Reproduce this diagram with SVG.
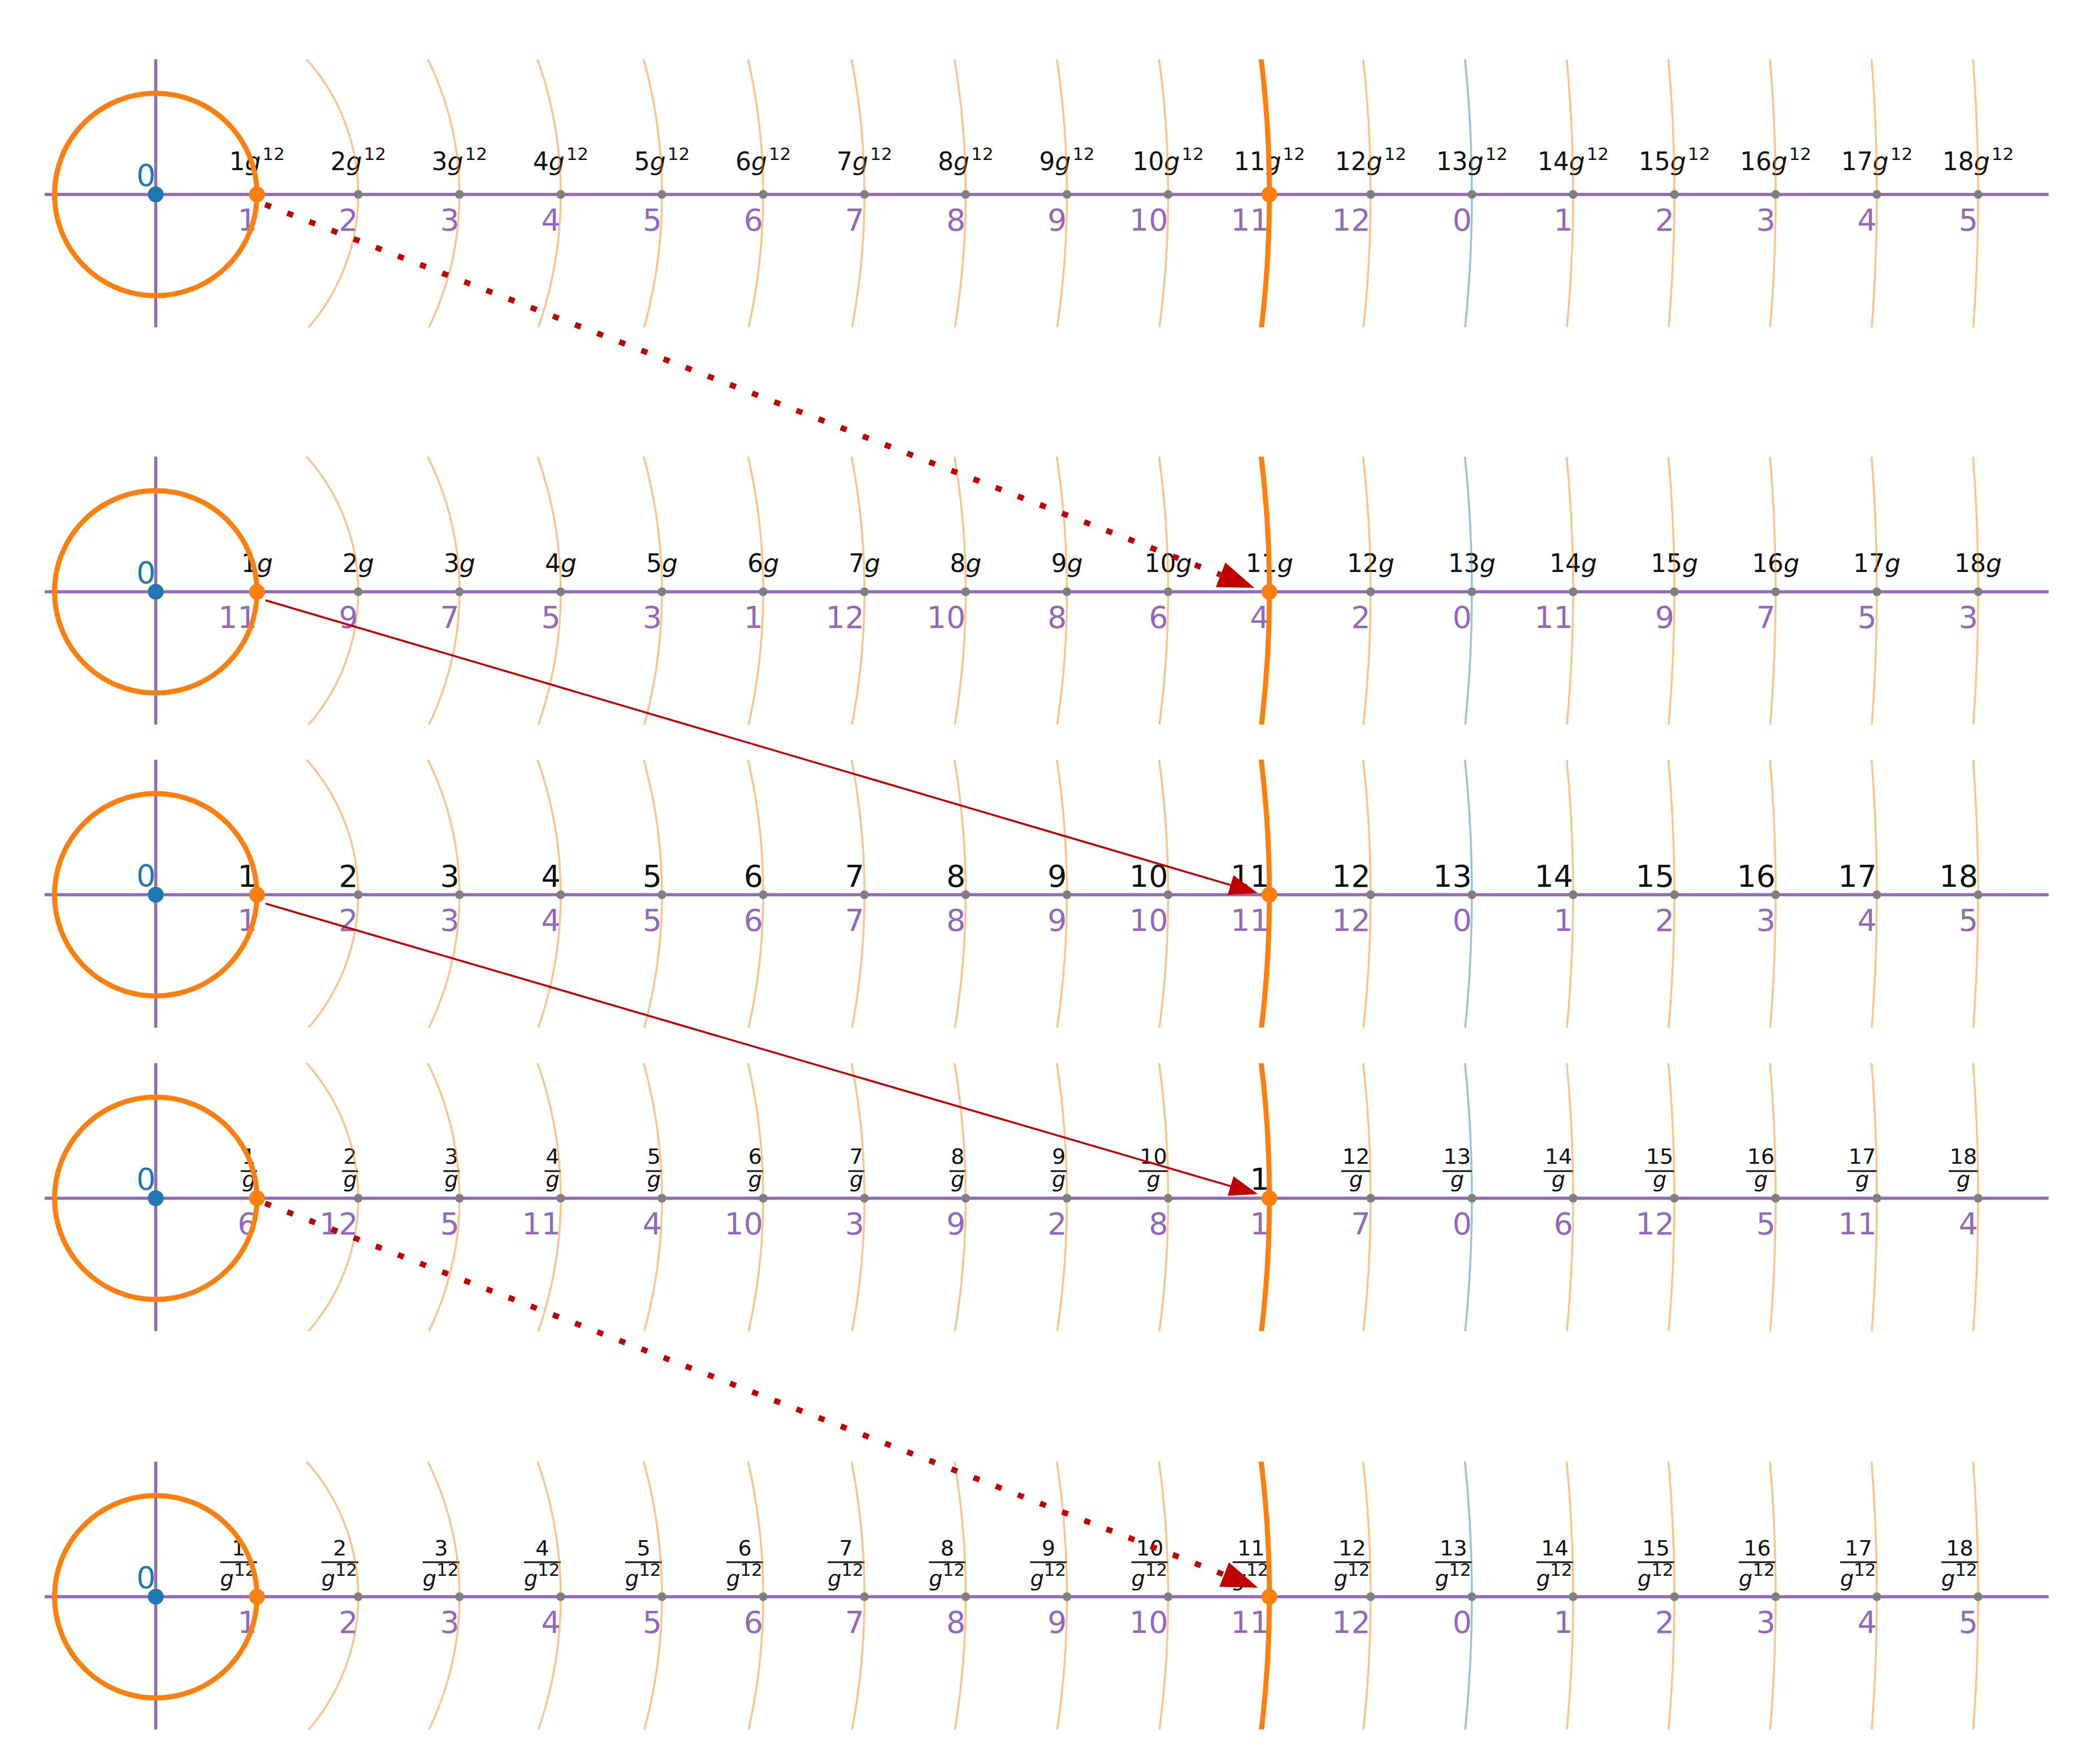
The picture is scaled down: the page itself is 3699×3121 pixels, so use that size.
<svg xmlns="http://www.w3.org/2000/svg" xmlns:xlink="http://www.w3.org/1999/xlink" width="3699" height="3121" viewBox="0 0 3699 3121">
<style>
text{font-family:"DejaVu Sans","Liberation Sans",sans-serif}
.ax{stroke:#9467bd;stroke-width:5.5;fill:none}
.th{fill:none;stroke:#ff7f0e;stroke-opacity:0.48;stroke-width:3.5}
.bc{fill:none;stroke:#1f77b4;stroke-opacity:0.45;stroke-width:3.5}
.tk{fill:none;stroke:#ff7f0e;stroke-width:9}
.gd{fill:#7f7f7f}
.od{fill:#ff7f0e}
.bd{fill:#1f77b4}
.pl{font-size:54px;fill:#9467bd;text-anchor:end}
.z{font-size:54px;fill:#1f77b4;text-anchor:end}
.bl{font-size:54px;fill:#111;text-anchor:end}
.mt{font-size:44px;fill:#111;text-anchor:middle}
.fr{font-size:38px;fill:#111;text-anchor:middle}
.dn{font-size:38px;fill:#111}
.it{font-style:italic}
.sup{font-size:31px}
.bar{fill:#111}
.dot{stroke:#c00000;stroke-width:10;stroke-dasharray:11 31;fill:none}
.sol{stroke:#c00000;stroke-width:3.5;fill:none}
.hd{fill:#c00000}
</style>
<defs>
<clipPath id="band"><rect x="-196.5" y="-239" width="3545" height="474"/></clipPath>
<g id="arcs">
<circle class="th" r="358.2"/><circle class="th" r="537.3"/><circle class="th" r="716.4"/><circle class="th" r="895.5"/><circle class="th" r="1074.6"/><circle class="th" r="1253.7"/><circle class="th" r="1432.8"/><circle class="th" r="1611.9"/><circle class="th" r="1791"/><circle class="th" r="2149.2"/><circle class="th" r="2507.4"/><circle class="th" r="2686.5"/><circle class="th" r="2865.6"/><circle class="th" r="3044.7"/><circle class="th" r="3223.8"/>
<circle class="bc" r="2328.3"/>
<circle class="tk" r="1970.1"/>
<circle class="tk" r="179.1"/>
</g>
<g id="axes">
<line class="ax" x1="-196.5" y1="0" x2="3348.5" y2="0"/>
<line class="ax" x1="0" y1="-239" x2="0" y2="235"/>
<text class="z" x="0" y="-15">0</text>
</g>
<g id="dots">
<circle class="bd" cx="0" cy="0" r="14"/>
<circle class="od" cx="179.1" cy="0" r="14"/>
<circle class="gd" cx="358.2" cy="0" r="7.7"/><circle class="gd" cx="537.3" cy="0" r="7.7"/><circle class="gd" cx="716.4" cy="0" r="7.7"/><circle class="gd" cx="895.5" cy="0" r="7.7"/><circle class="gd" cx="1074.6" cy="0" r="7.7"/><circle class="gd" cx="1253.7" cy="0" r="7.7"/><circle class="gd" cx="1432.8" cy="0" r="7.7"/><circle class="gd" cx="1611.9" cy="0" r="7.7"/><circle class="gd" cx="1791" cy="0" r="7.7"/>
<circle class="od" cx="1970.1" cy="0" r="14"/>
<circle class="gd" cx="2149.2" cy="0" r="7.7"/><circle class="gd" cx="2328.3" cy="0" r="7.7"/><circle class="gd" cx="2507.4" cy="0" r="7.7"/><circle class="gd" cx="2686.5" cy="0" r="7.7"/><circle class="gd" cx="2865.6" cy="0" r="7.7"/><circle class="gd" cx="3044.7" cy="0" r="7.7"/><circle class="gd" cx="3223.8" cy="0" r="7.7"/>
</g>
<g id="plA">
<text class="pl" x="179.1" y="64">1</text><text class="pl" x="358.2" y="64">2</text><text class="pl" x="537.3" y="64">3</text><text class="pl" x="716.4" y="64">4</text><text class="pl" x="895.5" y="64">5</text><text class="pl" x="1074.6" y="64">6</text><text class="pl" x="1253.7" y="64">7</text><text class="pl" x="1432.8" y="64">8</text><text class="pl" x="1611.9" y="64">9</text><text class="pl" x="1791" y="64">10</text><text class="pl" x="1970.1" y="64">11</text><text class="pl" x="2149.2" y="64">12</text><text class="pl" x="2328.3" y="64">0</text><text class="pl" x="2507.4" y="64">1</text><text class="pl" x="2686.5" y="64">2</text><text class="pl" x="2865.6" y="64">3</text><text class="pl" x="3044.7" y="64">4</text><text class="pl" x="3223.8" y="64">5</text>
</g>
</defs>

<g id="row1" transform="translate(275.5,344)">
<use href="#axes"/>
<use href="#plA"/>
<text class="mt" x="179.1" y="-43">1<tspan class="it">g</tspan><tspan class="sup" dx="3" dy="-18">12</tspan></text>
<text class="mt" x="358.2" y="-43">2<tspan class="it">g</tspan><tspan class="sup" dx="3" dy="-18">12</tspan></text>
<text class="mt" x="537.3" y="-43">3<tspan class="it">g</tspan><tspan class="sup" dx="3" dy="-18">12</tspan></text>
<text class="mt" x="716.4" y="-43">4<tspan class="it">g</tspan><tspan class="sup" dx="3" dy="-18">12</tspan></text>
<text class="mt" x="895.5" y="-43">5<tspan class="it">g</tspan><tspan class="sup" dx="3" dy="-18">12</tspan></text>
<text class="mt" x="1074.6" y="-43">6<tspan class="it">g</tspan><tspan class="sup" dx="3" dy="-18">12</tspan></text>
<text class="mt" x="1253.7" y="-43">7<tspan class="it">g</tspan><tspan class="sup" dx="3" dy="-18">12</tspan></text>
<text class="mt" x="1432.8" y="-43">8<tspan class="it">g</tspan><tspan class="sup" dx="3" dy="-18">12</tspan></text>
<text class="mt" x="1611.9" y="-43">9<tspan class="it">g</tspan><tspan class="sup" dx="3" dy="-18">12</tspan></text>
<text class="mt" x="1791" y="-43">10<tspan class="it">g</tspan><tspan class="sup" dx="3" dy="-18">12</tspan></text>
<text class="mt" x="1970.1" y="-43">11<tspan class="it">g</tspan><tspan class="sup" dx="3" dy="-18">12</tspan></text>
<text class="mt" x="2149.2" y="-43">12<tspan class="it">g</tspan><tspan class="sup" dx="3" dy="-18">12</tspan></text>
<text class="mt" x="2328.3" y="-43">13<tspan class="it">g</tspan><tspan class="sup" dx="3" dy="-18">12</tspan></text>
<text class="mt" x="2507.4" y="-43">14<tspan class="it">g</tspan><tspan class="sup" dx="3" dy="-18">12</tspan></text>
<text class="mt" x="2686.5" y="-43">15<tspan class="it">g</tspan><tspan class="sup" dx="3" dy="-18">12</tspan></text>
<text class="mt" x="2865.6" y="-43">16<tspan class="it">g</tspan><tspan class="sup" dx="3" dy="-18">12</tspan></text>
<text class="mt" x="3044.7" y="-43">17<tspan class="it">g</tspan><tspan class="sup" dx="3" dy="-18">12</tspan></text>
<text class="mt" x="3223.8" y="-43">18<tspan class="it">g</tspan><tspan class="sup" dx="3" dy="-18">12</tspan></text>
<g clip-path="url(#band)"><use href="#arcs"/></g>
<use href="#dots"/>
</g>

<g id="row2" transform="translate(275.5,1047)">
<use href="#axes"/>
<text class="pl" x="179.1" y="64">11</text><text class="pl" x="358.2" y="64">9</text><text class="pl" x="537.3" y="64">7</text><text class="pl" x="716.4" y="64">5</text><text class="pl" x="895.5" y="64">3</text><text class="pl" x="1074.6" y="64">1</text><text class="pl" x="1253.7" y="64">12</text><text class="pl" x="1432.8" y="64">10</text><text class="pl" x="1611.9" y="64">8</text><text class="pl" x="1791" y="64">6</text><text class="pl" x="1970.1" y="64">4</text><text class="pl" x="2149.2" y="64">2</text><text class="pl" x="2328.3" y="64">0</text><text class="pl" x="2507.4" y="64">11</text><text class="pl" x="2686.5" y="64">9</text><text class="pl" x="2865.6" y="64">7</text><text class="pl" x="3044.7" y="64">5</text><text class="pl" x="3223.8" y="64">3</text>
<text class="mt" x="179.1" y="-35">1<tspan class="it">g</tspan></text>
<text class="mt" x="358.2" y="-35">2<tspan class="it">g</tspan></text>
<text class="mt" x="537.3" y="-35">3<tspan class="it">g</tspan></text>
<text class="mt" x="716.4" y="-35">4<tspan class="it">g</tspan></text>
<text class="mt" x="895.5" y="-35">5<tspan class="it">g</tspan></text>
<text class="mt" x="1074.6" y="-35">6<tspan class="it">g</tspan></text>
<text class="mt" x="1253.7" y="-35">7<tspan class="it">g</tspan></text>
<text class="mt" x="1432.8" y="-35">8<tspan class="it">g</tspan></text>
<text class="mt" x="1611.9" y="-35">9<tspan class="it">g</tspan></text>
<text class="mt" x="1791" y="-35">10<tspan class="it">g</tspan></text>
<text class="mt" x="1970.1" y="-35">11<tspan class="it">g</tspan></text>
<text class="mt" x="2149.2" y="-35">12<tspan class="it">g</tspan></text>
<text class="mt" x="2328.3" y="-35">13<tspan class="it">g</tspan></text>
<text class="mt" x="2507.4" y="-35">14<tspan class="it">g</tspan></text>
<text class="mt" x="2686.5" y="-35">15<tspan class="it">g</tspan></text>
<text class="mt" x="2865.6" y="-35">16<tspan class="it">g</tspan></text>
<text class="mt" x="3044.7" y="-35">17<tspan class="it">g</tspan></text>
<text class="mt" x="3223.8" y="-35">18<tspan class="it">g</tspan></text>
<g clip-path="url(#band)"><use href="#arcs"/></g>
<use href="#dots"/>
</g>

<g id="row3" transform="translate(275.5,1583)">
<use href="#axes"/>
<use href="#plA"/>
<text class="bl" x="179.1" y="-14">1</text><text class="bl" x="358.2" y="-14">2</text><text class="bl" x="537.3" y="-14">3</text><text class="bl" x="716.4" y="-14">4</text><text class="bl" x="895.5" y="-14">5</text><text class="bl" x="1074.6" y="-14">6</text><text class="bl" x="1253.7" y="-14">7</text><text class="bl" x="1432.8" y="-14">8</text><text class="bl" x="1611.9" y="-14">9</text><text class="bl" x="1791" y="-14">10</text><text class="bl" x="1970.1" y="-14">11</text><text class="bl" x="2149.2" y="-14">12</text><text class="bl" x="2328.3" y="-14">13</text><text class="bl" x="2507.4" y="-14">14</text><text class="bl" x="2686.5" y="-14">15</text><text class="bl" x="2865.6" y="-14">16</text><text class="bl" x="3044.7" y="-14">17</text><text class="bl" x="3223.8" y="-14">18</text>
<g clip-path="url(#band)"><use href="#arcs"/></g>
<use href="#dots"/>
</g>

<g id="row4" transform="translate(275.5,2120)">
<use href="#axes"/>
<text class="pl" x="179.1" y="64">6</text><text class="pl" x="358.2" y="64">12</text><text class="pl" x="537.3" y="64">5</text><text class="pl" x="716.4" y="64">11</text><text class="pl" x="895.5" y="64">4</text><text class="pl" x="1074.6" y="64">10</text><text class="pl" x="1253.7" y="64">3</text><text class="pl" x="1432.8" y="64">9</text><text class="pl" x="1611.9" y="64">2</text><text class="pl" x="1791" y="64">8</text><text class="pl" x="1970.1" y="64">1</text><text class="pl" x="2149.2" y="64">7</text><text class="pl" x="2328.3" y="64">0</text><text class="pl" x="2507.4" y="64">6</text><text class="pl" x="2686.5" y="64">12</text><text class="pl" x="2865.6" y="64">5</text><text class="pl" x="3044.7" y="64">11</text><text class="pl" x="3223.8" y="64">4</text>
<g id="fr4">
<text class="fr" x="164.85" y="-61.5">1</text><rect class="bar" x="150.6" y="-49.5" width="28.5" height="3"/><text class="fr it" x="164.85" y="-20">g</text>
<text class="fr" x="343.95" y="-61.5">2</text><rect class="bar" x="329.7" y="-49.5" width="28.5" height="3"/><text class="fr it" x="343.95" y="-20">g</text>
<text class="fr" x="523.05" y="-61.5">3</text><rect class="bar" x="508.8" y="-49.5" width="28.5" height="3"/><text class="fr it" x="523.05" y="-20">g</text>
<text class="fr" x="702.15" y="-61.5">4</text><rect class="bar" x="687.9" y="-49.5" width="28.5" height="3"/><text class="fr it" x="702.15" y="-20">g</text>
<text class="fr" x="881.25" y="-61.5">5</text><rect class="bar" x="867" y="-49.5" width="28.5" height="3"/><text class="fr it" x="881.25" y="-20">g</text>
<text class="fr" x="1060.35" y="-61.5">6</text><rect class="bar" x="1046.1" y="-49.5" width="28.5" height="3"/><text class="fr it" x="1060.35" y="-20">g</text>
<text class="fr" x="1239.45" y="-61.5">7</text><rect class="bar" x="1225.2" y="-49.5" width="28.5" height="3"/><text class="fr it" x="1239.45" y="-20">g</text>
<text class="fr" x="1418.55" y="-61.5">8</text><rect class="bar" x="1404.3" y="-49.5" width="28.5" height="3"/><text class="fr it" x="1418.55" y="-20">g</text>
<text class="fr" x="1597.65" y="-61.5">9</text><rect class="bar" x="1583.4" y="-49.5" width="28.5" height="3"/><text class="fr it" x="1597.65" y="-20">g</text>
<text class="fr" x="1765" y="-61.5">10</text><rect class="bar" x="1739" y="-49.5" width="52" height="3"/><text class="fr it" x="1765" y="-20">g</text>
<text class="bl" x="1970.1" y="-15">1</text>
<text class="fr" x="2123.2" y="-61.5">12</text><rect class="bar" x="2097.2" y="-49.5" width="52" height="3"/><text class="fr it" x="2123.2" y="-20">g</text>
<text class="fr" x="2302.3" y="-61.5">13</text><rect class="bar" x="2276.3" y="-49.5" width="52" height="3"/><text class="fr it" x="2302.3" y="-20">g</text>
<text class="fr" x="2481.4" y="-61.5">14</text><rect class="bar" x="2455.4" y="-49.5" width="52" height="3"/><text class="fr it" x="2481.4" y="-20">g</text>
<text class="fr" x="2660.5" y="-61.5">15</text><rect class="bar" x="2634.5" y="-49.5" width="52" height="3"/><text class="fr it" x="2660.5" y="-20">g</text>
<text class="fr" x="2839.6" y="-61.5">16</text><rect class="bar" x="2813.6" y="-49.5" width="52" height="3"/><text class="fr it" x="2839.6" y="-20">g</text>
<text class="fr" x="3018.7" y="-61.5">17</text><rect class="bar" x="2992.7" y="-49.5" width="52" height="3"/><text class="fr it" x="3018.7" y="-20">g</text>
<text class="fr" x="3197.8" y="-61.5">18</text><rect class="bar" x="3171.8" y="-49.5" width="52" height="3"/><text class="fr it" x="3197.8" y="-20">g</text>
</g>
<g clip-path="url(#band)"><use href="#arcs"/></g>
<use href="#dots"/>
</g>

<g id="row5" transform="translate(275.5,2825)">
<use href="#axes"/>
<use href="#plA"/>
<text class="fr" x="146.6" y="-73">1</text><rect class="bar" x="114.1" y="-62.5" width="65" height="3"/><text class="dn" x="114.1" y="-19"><tspan class="it">g</tspan><tspan class="sup" dy="-18">12</tspan></text>
<text class="fr" x="325.7" y="-73">2</text><rect class="bar" x="293.2" y="-62.5" width="65" height="3"/><text class="dn" x="293.2" y="-19"><tspan class="it">g</tspan><tspan class="sup" dy="-18">12</tspan></text>
<text class="fr" x="504.8" y="-73">3</text><rect class="bar" x="472.3" y="-62.5" width="65" height="3"/><text class="dn" x="472.3" y="-19"><tspan class="it">g</tspan><tspan class="sup" dy="-18">12</tspan></text>
<text class="fr" x="683.9" y="-73">4</text><rect class="bar" x="651.4" y="-62.5" width="65" height="3"/><text class="dn" x="651.4" y="-19"><tspan class="it">g</tspan><tspan class="sup" dy="-18">12</tspan></text>
<text class="fr" x="863" y="-73">5</text><rect class="bar" x="830.5" y="-62.5" width="65" height="3"/><text class="dn" x="830.5" y="-19"><tspan class="it">g</tspan><tspan class="sup" dy="-18">12</tspan></text>
<text class="fr" x="1042.1" y="-73">6</text><rect class="bar" x="1009.6" y="-62.5" width="65" height="3"/><text class="dn" x="1009.6" y="-19"><tspan class="it">g</tspan><tspan class="sup" dy="-18">12</tspan></text>
<text class="fr" x="1221.2" y="-73">7</text><rect class="bar" x="1188.7" y="-62.5" width="65" height="3"/><text class="dn" x="1188.7" y="-19"><tspan class="it">g</tspan><tspan class="sup" dy="-18">12</tspan></text>
<text class="fr" x="1400.3" y="-73">8</text><rect class="bar" x="1367.8" y="-62.5" width="65" height="3"/><text class="dn" x="1367.8" y="-19"><tspan class="it">g</tspan><tspan class="sup" dy="-18">12</tspan></text>
<text class="fr" x="1579.4" y="-73">9</text><rect class="bar" x="1546.9" y="-62.5" width="65" height="3"/><text class="dn" x="1546.9" y="-19"><tspan class="it">g</tspan><tspan class="sup" dy="-18">12</tspan></text>
<text class="fr" x="1758.5" y="-73">10</text><rect class="bar" x="1726" y="-62.5" width="65" height="3"/><text class="dn" x="1726" y="-19"><tspan class="it">g</tspan><tspan class="sup" dy="-18">12</tspan></text>
<text class="fr" x="1937.6" y="-73">11</text><rect class="bar" x="1905.1" y="-62.5" width="65" height="3"/><text class="dn" x="1905.1" y="-19"><tspan class="it">g</tspan><tspan class="sup" dy="-18">12</tspan></text>
<text class="fr" x="2116.7" y="-73">12</text><rect class="bar" x="2084.2" y="-62.5" width="65" height="3"/><text class="dn" x="2084.2" y="-19"><tspan class="it">g</tspan><tspan class="sup" dy="-18">12</tspan></text>
<text class="fr" x="2295.8" y="-73">13</text><rect class="bar" x="2263.3" y="-62.5" width="65" height="3"/><text class="dn" x="2263.3" y="-19"><tspan class="it">g</tspan><tspan class="sup" dy="-18">12</tspan></text>
<text class="fr" x="2474.9" y="-73">14</text><rect class="bar" x="2442.4" y="-62.5" width="65" height="3"/><text class="dn" x="2442.4" y="-19"><tspan class="it">g</tspan><tspan class="sup" dy="-18">12</tspan></text>
<text class="fr" x="2654" y="-73">15</text><rect class="bar" x="2621.5" y="-62.5" width="65" height="3"/><text class="dn" x="2621.5" y="-19"><tspan class="it">g</tspan><tspan class="sup" dy="-18">12</tspan></text>
<text class="fr" x="2833.1" y="-73">16</text><rect class="bar" x="2800.6" y="-62.5" width="65" height="3"/><text class="dn" x="2800.6" y="-19"><tspan class="it">g</tspan><tspan class="sup" dy="-18">12</tspan></text>
<text class="fr" x="3012.2" y="-73">17</text><rect class="bar" x="2979.7" y="-62.5" width="65" height="3"/><text class="dn" x="2979.7" y="-19"><tspan class="it">g</tspan><tspan class="sup" dy="-18">12</tspan></text>
<text class="fr" x="3191.3" y="-73">18</text><rect class="bar" x="3158.8" y="-62.5" width="65" height="3"/><text class="dn" x="3158.8" y="-19"><tspan class="it">g</tspan><tspan class="sup" dy="-18">12</tspan></text>
<g clip-path="url(#band)"><use href="#arcs"/></g>
<use href="#dots"/>
</g>

<g id="connectors">
<line class="dot" x1="469" y1="361.8" x2="2159.3" y2="1016.9"/>
<polygon class="hd" points="2219,1040 2150.9,1038.7 2167.7,995.2"/>
<line class="sol" x1="469.6" y1="1062" x2="2177" y2="1565.9"/>
<polygon class="hd" points="2225,1580 2171.9,1583.1 2182.1,1548.6"/>
<line class="sol" x1="469.6" y1="1598.6" x2="2177" y2="2098.6"/>
<polygon class="hd" points="2225,2112.6 2171.9,2115.8 2182.1,2081.3"/>
<line class="dot" x1="469" y1="2128.9" x2="2165.6" y2="2785.9"/>
<polygon class="hd" points="2225.3,2809 2157.2,2807.6 2174,2764.2"/>
</g>
</svg>
